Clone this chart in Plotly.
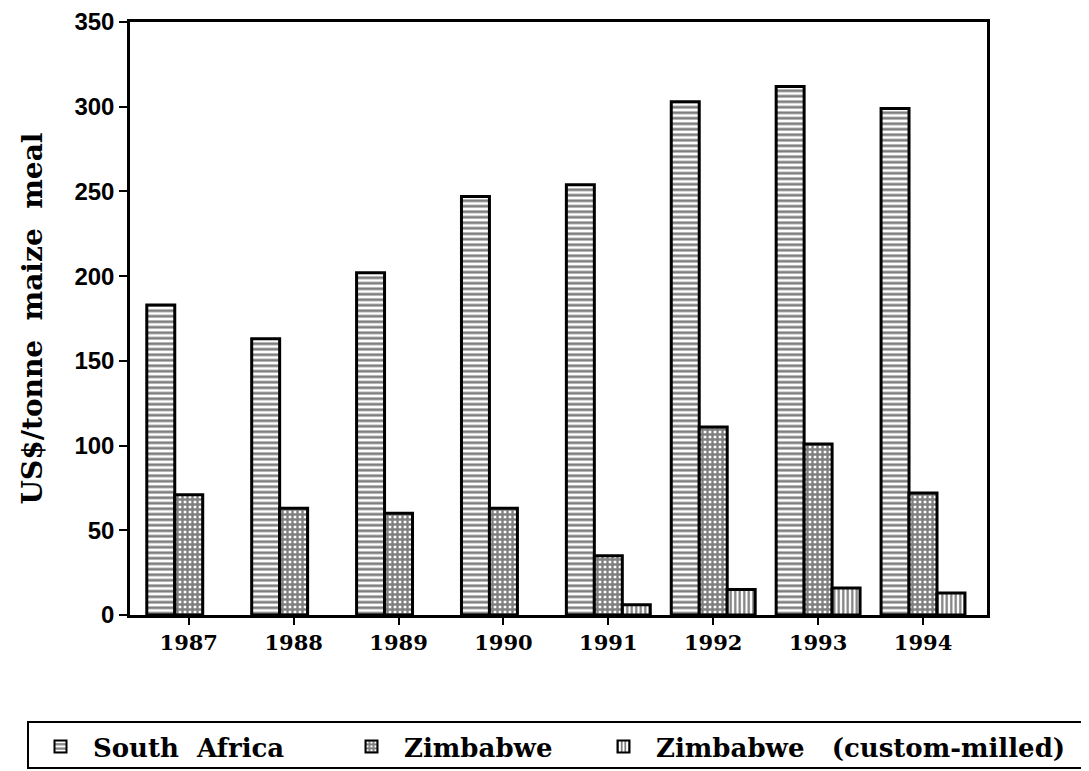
import plotly.graph_objects as go

years = ["1987", "1988", "1989", "1990", "1991", "1992", "1993", "1994"]
south_africa = [183, 163, 202, 247, 254, 303, 312, 299]
zimbabwe = [71, 63, 60, 63, 35, 111, 101, 72]
zimbabwe_custom = [None, None, None, None, 6, 15, 16, 13]
y_ticks = [0, 50, 100, 150, 200, 250, 300, 350]

SERIF = "DejaVu Serif"
SANS = "Liberation Sans"
NB = "\u00a0"

W, H = 1081, 763
L, R, T, B = 122, 102, 14, 156
PW, PH = W - L - R, H - T - B


def px_x(px):
    return (px - L) / PW


def px_y(py):
    return (H - B - py) / PH


fig = go.Figure()
series = [
    ("South" + NB * 2 + "Africa", south_africa, "-", 5.5, 0.5, "legend", 20),
    ("Zimbabwe", zimbabwe, "+", 5, 0.72, "legend2", 331),
    ("Zimbabwe" + NB * 3 + "(custom-milled)", zimbabwe_custom, "|", 4.5, 0.5, "legend3", 583),
]
legend_common = dict(
    orientation="h",
    xanchor="left",
    y=px_y(715), yanchor="top",
    borderwidth=0,
    bgcolor="rgba(0,0,0,0)",
    font=dict(family=SERIF, size=26, weight="bold"),
    itemwidth=55,
    itemsizing="constant",
)
legends = {}
for name, vals, shape, size, sol, leg, lx in series:
    fig.add_trace(go.Bar(
        x=years, y=vals, name=name, legend=leg,
        marker=dict(
            color="white",
            line=dict(color="black", width=3),
            pattern=dict(shape=shape, size=size, solidity=sol,
                         fgcolor="black", bgcolor="white", fillmode="overlay"),
        ),
    ))
    legends[leg] = dict(legend_common, x=px_x(lx))

fig.update_layout(
    barmode="group",
    bargap=0.2,
    bargroupgap=0,
    width=W, height=H,
    paper_bgcolor="white", plot_bgcolor="white",
    margin=dict(l=L, r=R, t=T, b=B, autoexpand=False),
    font=dict(family=SERIF, color="black", size=20, weight="bold"),
    showlegend=True,
    **legends,
    shapes=[dict(
        type="rect", xref="paper", yref="paper",
        x0=px_x(20), x1=px_x(1076), y0=px_y(714), y1=px_y(760),
        line=dict(color="black", width=2), fillcolor="rgba(0,0,0,0)",
        layer="below",
    )],
    xaxis=dict(
        type="category",
        range=[-0.56, 7.61],
        showline=True, linecolor="black", linewidth=2.5, mirror=True,
        ticks="outside", ticklen=7, tickwidth=2, tickcolor="black",
        showgrid=False, zeroline=False,
        tickfont=dict(family=SERIF, size=21, weight="bold"),
    ),
    yaxis=dict(
        range=[0, 350],
        tickvals=y_ticks,
        showline=True, linecolor="black", linewidth=2.5, mirror=True,
        ticks="outside", ticklen=8, tickwidth=2, tickcolor="black",
        showgrid=False, zeroline=False,
        tickfont=dict(family=SANS, size=24, weight="bold"),
        title=dict(text="US$/tonne" + NB * 2 + "maize" + NB * 2 + "meal" + NB * 2, standoff=24,
                   font=dict(family=SERIF, size=28, weight="bold")),
    ),
)

fig.write_html("out.html")
